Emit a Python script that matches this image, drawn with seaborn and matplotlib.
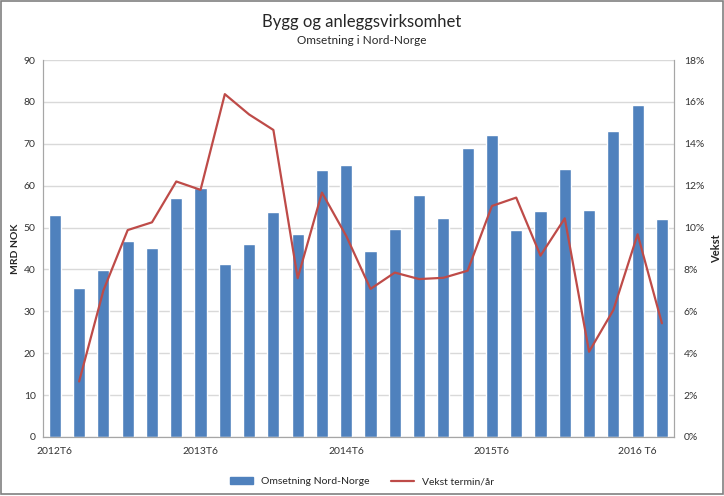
import numpy as np
import pandas as pd
import matplotlib
matplotlib.use("Agg")
import matplotlib.pyplot as plt
import seaborn as sns
from matplotlib.patches import Rectangle
from matplotlib.lines import Line2D
from matplotlib.ticker import FuncFormatter

# Data
periods = ["2012T6"]
for yr in [2013, 2014, 2015, 2016]:
    for t in range(1, 7):
        periods.append(f"{yr}T{t}")
periods.append("2017T1")

omsetning = [53.0, 35.6, 39.9, 46.9, 45.0, 57.1, 59.4, 41.4, 46.0, 53.8,
             48.5, 63.8, 64.9, 44.4, 49.6, 57.8, 52.2, 68.9, 72.1, 49.4,
             53.9, 63.9, 54.3, 73.0, 79.2, 52.1]
vekst = [np.nan, 2.65, 7.0, 9.88, 10.25, 12.2, 11.8, 16.37, 15.4, 14.66,
         7.58, 11.67, 9.6, 7.07, 7.85, 7.54, 7.6, 7.94, 11.03, 11.43,
         8.66, 10.44, 4.07, 6.06, 9.68, 5.43]
tick_labels = ["2012T6", "2013T6", "2014T6", "2015T6", "2016 T6"]

df = pd.DataFrame({"periode": periods, "omsetning": omsetning, "vekst": vekst})

sns.set_style("white")
plt.rcParams["font.family"] = ["Lato", "DejaVu Sans"]

bar_color = "#4F81BD"
line_color = "#BE4B48"
grid_color = "#D9D9D9"

fig = plt.figure(figsize=(7.24, 4.96), dpi=100)
ax = fig.add_axes([0.059, 0.119, 0.872, 0.760])

sns.barplot(data=df, x="periode", y="omsetning", color=bar_color, width=0.5,
            saturation=1, ax=ax, zorder=2)
ax.set_ylim(0, 90)
ax.set_yticks(np.arange(0, 91, 10))
ax.yaxis.grid(True, color=grid_color, linewidth=1, zorder=0)
ax.set_axisbelow(True)
ax.set_xlabel("")
ax.set_ylabel("MRD NOK", fontsize=7.5, fontweight="bold", labelpad=3)

ax2 = ax.twinx()
sns.pointplot(data=df, x="periode", y="vekst", color=line_color, markers="",
              linewidth=1.6, ax=ax2)
ax2.set_ylim(0, 18)
ax2.set_yticks(np.arange(0, 19, 2))
ax2.yaxis.set_major_formatter(FuncFormatter(lambda v, p: f"{v:.0f}%"))
ax2.set_ylabel("Vekst", fontsize=8, fontweight="bold", labelpad=5)
ax2.set_xlim(-0.5, len(periods) - 0.5)
ax.set_xlim(-0.5, len(periods) - 0.5)

tick_pos = [periods.index(p.replace(" ", "")) for p in tick_labels]
ax.set_xticks(tick_pos)
ax.set_xticklabels(tick_labels, fontsize=7.5)
ax2.set_xticks(tick_pos)

for a in (ax, ax2):
    for s in a.spines.values():
        s.set_color("#A6A6A6")
        s.set_linewidth(0.8)
    a.tick_params(axis="y", labelsize=7.5, length=0, colors="#333333")
ax.spines["top"].set_visible(False)
ax2.spines["top"].set_visible(False)
ax.tick_params(axis="x", length=3, color="#A6A6A6", labelcolor="#333333", pad=4)
ax.tick_params(axis="y", pad=5)
ax2.tick_params(axis="y", pad=7)

fig.text(0.5, 0.955, "Bygg og anleggsvirksomhet", ha="center", va="center", fontsize=12)
fig.text(0.5, 0.918, "Omsetning i Nord-Norge", ha="center", va="center", fontsize=8.5)

handles = [Rectangle((0, 0), 1, 1, color=bar_color),
           Line2D([0], [0], color=line_color, linewidth=1.6)]
fig.legend(handles, ["Omsetning Nord-Norge", "Vekst termin/år"], loc="center",
           bbox_to_anchor=(0.5, 0.029), ncol=2, frameon=False, fontsize=7.5,
           handlelength=2.2, columnspacing=2)

fig.patches.append(Rectangle((0.001, 0.004), 0.997, 0.994, transform=fig.transFigure,
                             fill=False, edgecolor="#808080", linewidth=1.2))

fig.savefig("out.png", dpi=100)
